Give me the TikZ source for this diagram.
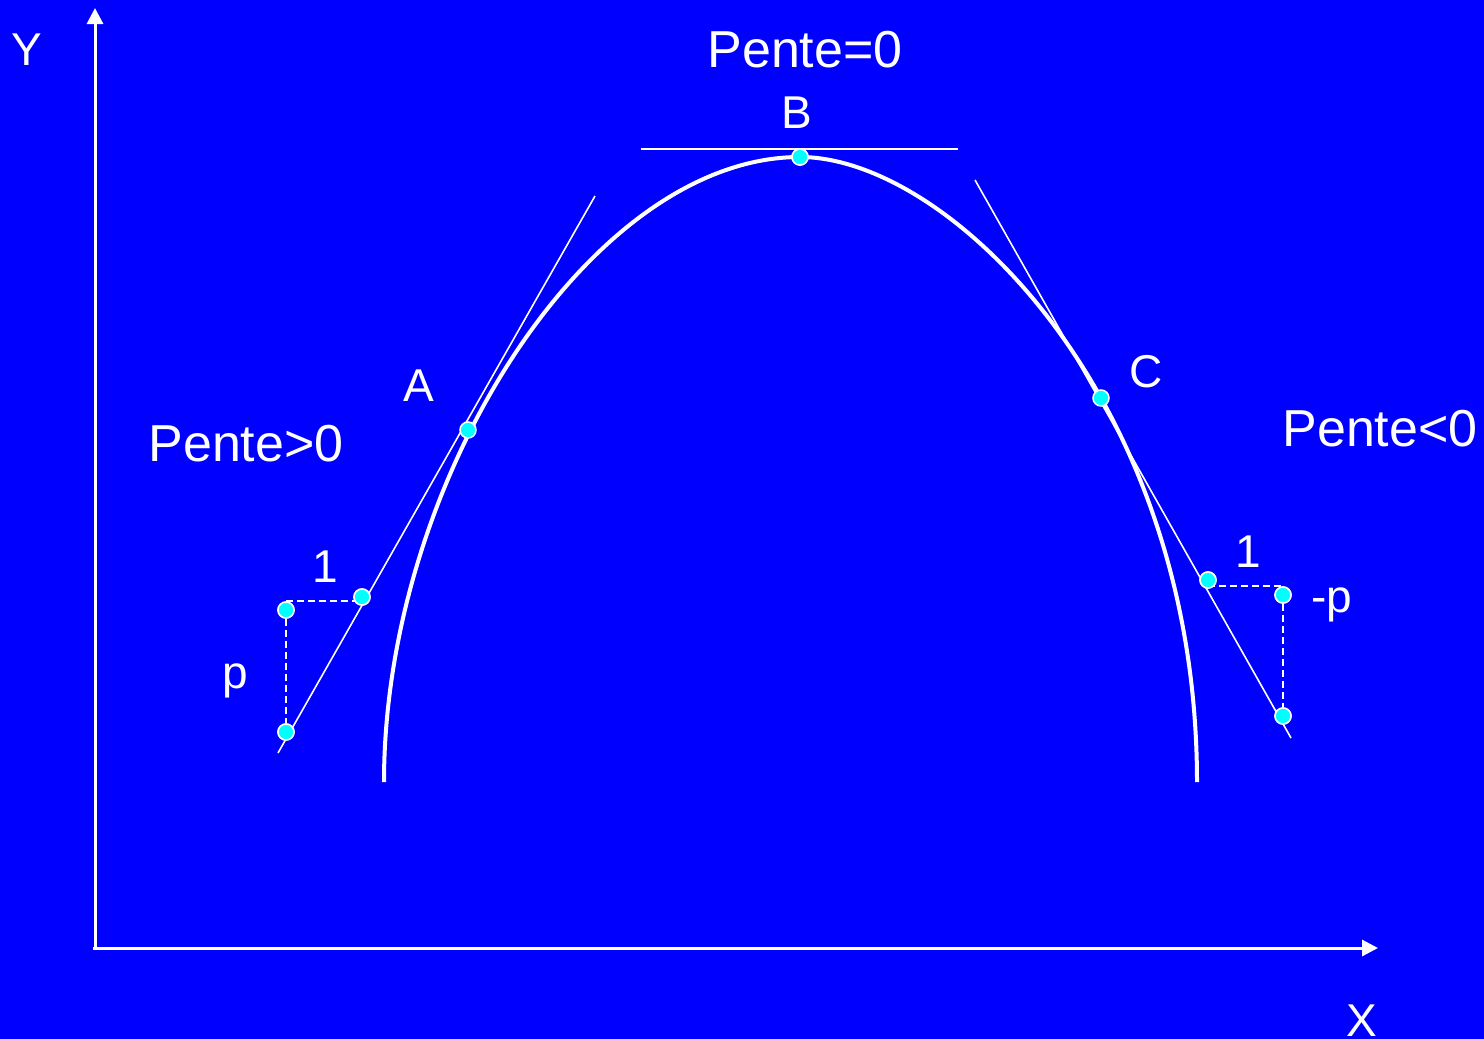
\documentclass[tikz,border=0pt]{standalone}
\usepackage{fontspec}
\setmainfont{Liberation Sans}
\usetikzlibrary{arrows.meta,positioning,calc}
\definecolor{bgblue}{RGB}{0,0,255}
\definecolor{pt}{RGB}{0,255,255}
\tikzset{
  dot/.style={circle,fill=pt,draw=white,line width=1.5pt,inner sep=0pt,
    minimum size=16pt},
  axis/.style={-{Triangle[length=16pt,width=16pt]},line width=3pt,white},
  curve/.style={line width=4pt,white},
  tang/.style={line width=1.6pt,white},
  dashln/.style={dash pattern=on 7pt off 4pt,line width=1.8pt,white},
  lbl/.style={text=white,inner sep=0pt,anchor=base,
    font=\fontsize{46}{50}\selectfont},
  big/.style={lbl,font=\fontsize{52}{56}\selectfont},
}

\begin{document}
\begin{tikzpicture}[x=1pt,y=-1pt]
  \fill[bgblue] (0,0) rectangle (1484,1039);
  \useasboundingbox (0,0) rectangle (1484,1039);
  % axes
  \coordinate (o) at (95,948);
  \coordinate (ytop) at (95,8);
  \coordinate (xend) at (1378,948);
  \draw[axis] (o) -- (ytop);
  \draw[axis] ([xshift=-2pt]o) -- (xend);
  \node[lbl] (ylab) at (27,65) {Y};
  \node[lbl] (xlab) at (1362,1036) {X};
  % curve
  \coordinate (l0) at (384,782);
  \coordinate (r0) at (1197,782);
  \node[dot] (B) at (800,157) {};
  \draw[curve] (l0) .. controls (384,480) and (590,157) .. (B.center)
    .. controls (950,157) and (1197,400) .. (r0);
  % tangents
  \coordinate (ta1) at (278,753);
  \coordinate (ta2) at (595,196);
  \coordinate (tc1) at (975,180);
  \coordinate (tc2) at (1291,738);
  \coordinate (hb1) at (641,149);
  \coordinate (hb2) at (958,149);
  \draw[tang] (ta1) -- (ta2);
  \draw[tang] (tc1) -- (tc2);
  \draw[tang] (hb1) -- (hb2);
  % slope triangles
  \node[dot] (p1) at (286,610) {};
  \node[dot] (q1) at (362,597) {};
  \node[dot] (s1) at (286,732) {};
  \node[dot] (q2) at (1208,580) {};
  \node[dot] (p2) at (1283,595) {};
  \node[dot] (s2) at (1283,716) {};
  \draw[dashln] (p1.north) -- (p1.north -| q1);
  \draw[dashln] (p1) -- (s1);
  \draw[dashln] (q2 |- p2.north) -- (p2.north);
  \draw[dashln] (p2) -- (s2);
  \foreach \n in {p1,q1,s1,q2,p2,s2}
    \node[dot] at (\n) {};
  \node[dot] (A) at (468,430) {};
  \node[dot] (C) at (1101,398) {};
  \node[dot] at (B) {};
  % labels
  \node[big] (pz) at (805,67) {Pente=0};
  \node[big] (pp) at (246,461) {Pente>0};
  \node[big] (pn) at (1380,446) {Pente<0};
  \node[lbl] (blab) at (797,128) {B};
  \node[lbl] (alab) at (419,401) {A};
  \node[lbl] (clab) at (1146,387) {C};
  \node[lbl] (one1) at (325,582) {1};
  \node[lbl] (plab) at (235,688) {p};
  \node[lbl] (one2) at (1248,567) {1};
  \node[lbl] (mplab) at (1332,612) {-p};
\end{tikzpicture}
\end{document}
